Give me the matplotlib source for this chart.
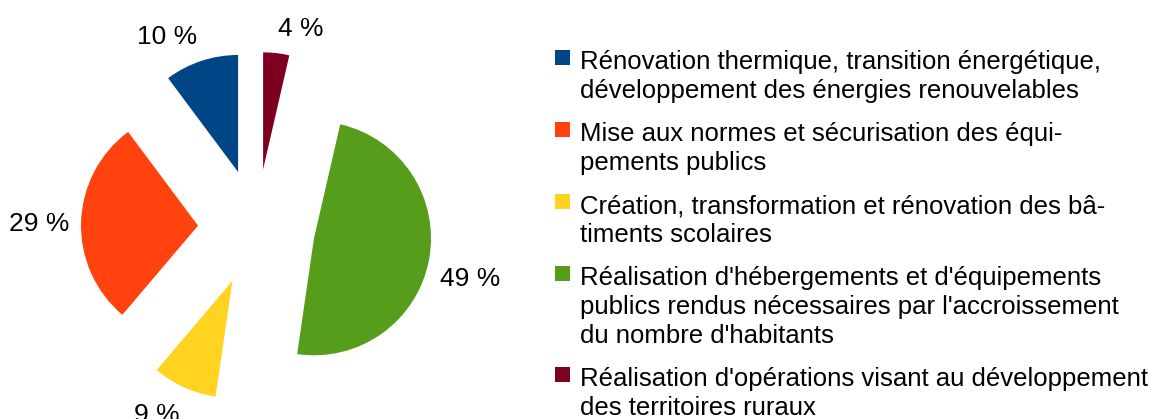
import numpy as np
import matplotlib
matplotlib.use("Agg")
import matplotlib.pyplot as plt
from matplotlib.patches import Rectangle

# ---- data ----
categories = [
    "Rénovation thermique, transition énergétique,\ndéveloppement des énergies renouvelables",
    "Mise aux normes et sécurisation des équi-\npements publics",
    "Création, transformation et rénovation des bâ-\ntiments scolaires",
    "Réalisation d'hébergements et d'équipements\npublics rendus nécessaires par l'accroissement\ndu nombre d'habitants",
    "Réalisation d'opérations visant au développement\ndes territoires ruraux",
]
values = [10.2, 28.6, 8.9, 48.7, 3.6]
pct_labels = ["10 %", "29 %", "9 %", "49 %", "4 %"]
colors = ["#004586", "#ff420e", "#ffd320", "#579d1c", "#7e0021"]

W, H = 1151, 419
plt.rcParams['font.family'] = ['Liberation Sans', 'DejaVu Sans']
fig = plt.figure(figsize=(W / 100, H / 100), dpi=100)

# pie axes: 1 data unit = R pixels
R = 117.0
cx, cy = 256.5, 227.5          # pixel centre (from top)
axw = 520
ax = fig.add_axes([0, 0, axw / W, 1])
wedges, _ = ax.pie(values, colors=colors, startangle=90, counterclock=True,
                   explode=[0.5] * len(values), radius=1.0,
                   wedgeprops=dict(linewidth=0))
ax.set_aspect('auto')
ax.set_xlim(-cx / R, (axw - cx) / R)
ax.set_ylim(-(H - cy) / R, cy / R)
ax.axis('off')

# percentage labels: box corner nearest the centre placed on the bisector
lab_fs = 19
em = lab_fs * 100 / 72.0          # px
asc, desc = 0.905 * em, 0.212 * em
D = 187.0
for w, txt in zip(wedges, pct_labels):
    th = np.deg2rad((w.theta1 + w.theta2) / 2)
    c, s = np.cos(th), np.sin(th)
    axp, ayp = D * c, D * s       # anchor in px relative to centre (y up)
    ha = 'left' if c > 0 else 'right'
    if abs(s) <= 0.1:
        base = ayp - (asc - desc) / 2
    elif s > 0:
        base = ayp + desc
    else:
        base = ayp - asc
    ax.text(axp / R, base / R, txt, ha=ha, va='baseline', fontsize=lab_fs, color='black')

# legend
lg = fig.add_axes([0, 0, 1, 1])
lg.set_xlim(0, W)
lg.set_ylim(H, 0)
lg.axis('off')
y = 69.3
line_h = 29.0
gap = 14.0
for lab, col in zip(categories, colors):
    lines = lab.split("\n")
    lg.add_patch(Rectangle((555, y - 19.3), 15, 15, facecolor=col, edgecolor='none'))
    for k, ln in enumerate(lines):
        lg.text(580, y + k * line_h, ln, ha='left', va='baseline', fontsize=18.5, color='black')
    y += len(lines) * line_h + gap

fig.savefig("out.png", dpi=100)
